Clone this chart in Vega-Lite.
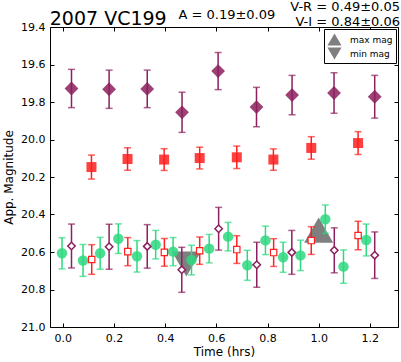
{
  "$schema": "https://vega.github.io/schema/vega-lite/v6.json",
  "width": 348,
  "height": 300,
  "autosize": {"type": "none"},
  "padding": {"left": 50, "top": 27, "right": 3, "bottom": 35},
  "background": "white",
  "config": {
    "font": "DejaVu Sans",
    "view": {"stroke": "black", "strokeWidth": 1},
    "axis": {"grid": false, "domain": false, "labelFont": "DejaVu Sans", "labelFontSize": 11, "labelColor": "black", "tickColor": "black", "tickSize": -4, "titleFont": "DejaVu Sans", "titleFontSize": 12, "titleFontWeight": "normal", "titleColor": "black"},
    "legend": {"labelFont": "DejaVu Sans"}
  },
  "datasets": {
    "pts": [
      {"t": 0.034, "mag": 19.728, "err": 0.102, "s": "V"},
      {"t": 0.181, "mag": 19.732, "err": 0.102, "s": "V"},
      {"t": 0.33, "mag": 19.73, "err": 0.1, "s": "V"},
      {"t": 0.466, "mag": 19.855, "err": 0.107, "s": "V"},
      {"t": 0.607, "mag": 19.635, "err": 0.099, "s": "V"},
      {"t": 0.757, "mag": 19.827, "err": 0.105, "s": "V"},
      {"t": 0.896, "mag": 19.763, "err": 0.105, "s": "V"},
      {"t": 1.06, "mag": 19.752, "err": 0.108, "s": "V"},
      {"t": 1.219, "mag": 19.772, "err": 0.114, "s": "V"},
      {"t": 0.112, "mag": 20.147, "err": 0.064, "s": "R"},
      {"t": 0.253, "mag": 20.104, "err": 0.06, "s": "R"},
      {"t": 0.396, "mag": 20.107, "err": 0.058, "s": "R"},
      {"t": 0.535, "mag": 20.099, "err": 0.058, "s": "R"},
      {"t": 0.68, "mag": 20.095, "err": 0.06, "s": "R"},
      {"t": 0.823, "mag": 20.107, "err": 0.057, "s": "R"},
      {"t": 0.971, "mag": 20.045, "err": 0.06, "s": "R"},
      {"t": 1.154, "mag": 20.019, "err": 0.061, "s": "R"},
      {"t": -0.003, "mag": 20.607, "err": 0.083, "s": "G"},
      {"t": 0.079, "mag": 20.645, "err": 0.085, "s": "G"},
      {"t": 0.146, "mag": 20.607, "err": 0.085, "s": "G"},
      {"t": 0.217, "mag": 20.529, "err": 0.079, "s": "G"},
      {"t": 0.29, "mag": 20.623, "err": 0.084, "s": "G"},
      {"t": 0.363, "mag": 20.561, "err": 0.076, "s": "G"},
      {"t": 0.431, "mag": 20.598, "err": 0.075, "s": "G"},
      {"t": 0.503, "mag": 20.643, "err": 0.079, "s": "G"},
      {"t": 0.572, "mag": 20.582, "err": 0.076, "s": "G"},
      {"t": 0.646, "mag": 20.518, "err": 0.076, "s": "G"},
      {"t": 0.721, "mag": 20.671, "err": 0.08, "s": "G"},
      {"t": 0.792, "mag": 20.538, "err": 0.076, "s": "G"},
      {"t": 0.861, "mag": 20.628, "err": 0.08, "s": "G"},
      {"t": 0.929, "mag": 20.618, "err": 0.081, "s": "G"},
      {"t": 1.026, "mag": 20.425, "err": 0.076, "s": "G"},
      {"t": 1.097, "mag": 20.678, "err": 0.089, "s": "G"},
      {"t": 1.186, "mag": 20.536, "err": 0.085, "s": "G"},
      {"t": 0.034, "mag": 20.568, "err": 0.117, "s": "Vo"},
      {"t": 0.181, "mag": 20.572, "err": 0.12, "s": "Vo"},
      {"t": 0.33, "mag": 20.57, "err": 0.116, "s": "Vo"},
      {"t": 0.465, "mag": 20.695, "err": 0.12, "s": "Vo"},
      {"t": 0.609, "mag": 20.476, "err": 0.114, "s": "Vo"},
      {"t": 0.758, "mag": 20.668, "err": 0.12, "s": "Vo"},
      {"t": 0.895, "mag": 20.602, "err": 0.117, "s": "Vo"},
      {"t": 1.061, "mag": 20.591, "err": 0.12, "s": "Vo"},
      {"t": 1.219, "mag": 20.617, "err": 0.124, "s": "Vo"},
      {"t": 0.113, "mag": 20.64, "err": 0.079, "s": "Ro"},
      {"t": 0.254, "mag": 20.598, "err": 0.075, "s": "Ro"},
      {"t": 0.397, "mag": 20.602, "err": 0.074, "s": "Ro"},
      {"t": 0.535, "mag": 20.593, "err": 0.073, "s": "Ro"},
      {"t": 0.68, "mag": 20.587, "err": 0.074, "s": "Ro"},
      {"t": 0.824, "mag": 20.603, "err": 0.074, "s": "Ro"},
      {"t": 0.971, "mag": 20.539, "err": 0.074, "s": "Ro"},
      {"t": 1.154, "mag": 20.512, "err": 0.076, "s": "Ro"}
    ],
    "ext": [
      {"t": 1.0, "mag": 20.483, "k": "max mag"},
      {"t": 0.483, "mag": 20.664, "k": "min mag"}
    ]
  },
  "resolve": {"axis": {"x": "independent", "y": "independent"}},
  "layer": [
    {
      "data": {"name": "ext"},
      "mark": {"type": "point", "filled": true, "color": "#7f7f7f", "opacity": 1, "size": 850, "strokeWidth": 0},
      "encoding": {
        "x": {"field": "t", "type": "quantitative", "scale": {"domain": [-0.05, 1.31], "nice": false, "zero": false}, "axis": {"orient": "top", "labels": false, "title": null, "values": [0, 0.2, 0.4, 0.6, 0.8, 1.0, 1.2]}},
        "y": {"field": "mag", "type": "quantitative", "scale": {"domain": [19.4, 21.0], "nice": false, "zero": false, "reverse": true}, "axis": {"orient": "right", "labels": false, "title": null, "values": [19.4, 19.6, 19.8, 20.0, 20.2, 20.4, 20.6, 20.8, 21.0]}},
        "shape": {"field": "k", "type": "nominal", "scale": {"domain": ["max mag", "min mag"], "range": ["triangle-up", "triangle-down"]},
          "legend": {"title": null, "orient": "top-right", "offset": 2, "strokeColor": "black", "fillColor": "white", "padding": 3, "symbolSize": 200, "symbolFillColor": "#7f7f7f", "symbolStrokeColor": "#7f7f7f", "symbolStrokeWidth": 0, "labelFontSize": 9, "labelColor": "black", "rowPadding": -2, "symbolOffset": 0, "labelOffset": 8, "cornerRadius": 0}}
      }
    },
    {
      "data": {"name": "pts"},
      "mark": {"type": "errorbar", "ticks": {"size": 7}, "thickness": 1.5},
      "encoding": {
        "x": {"field": "t", "type": "quantitative", "axis": {"orient": "bottom", "title": "Time (hrs)", "format": ".1f", "values": [0, 0.2, 0.4, 0.6, 0.8, 1.0, 1.2], "labelPadding": 9, "titlePadding": 3}},
        "y": {"field": "mag", "type": "quantitative", "axis": {"orient": "left", "title": "App. Magnitude", "format": ".1f", "values": [19.4, 19.6, 19.8, 20.0, 20.2, 20.4, 20.6, 20.8, 21.0], "labelPadding": 9, "titlePadding": 5}},
        "yError": {"field": "err"},
        "color": {"field": "s", "type": "nominal", "scale": {"domain": ["V", "R", "G", "Vo", "Ro"], "range": ["#8c1f5e", "#ff1f1f", "#2ed880", "#8c1f5e", "#ff1f1f"]}, "legend": null}
      }
    },
    {
      "data": {"name": "pts"},
      "transform": [{"filter": "datum.s == 'G'"}],
      "mark": {"type": "point", "shape": "circle", "filled": true, "color": "#2ed880", "opacity": 0.85, "size": 110},
      "encoding": {
        "x": {"field": "t", "type": "quantitative", "axis": null},
        "y": {"field": "mag", "type": "quantitative", "axis": null}
      }
    },
    {
      "data": {"name": "pts"},
      "transform": [{"filter": "datum.s == 'Vo'"}],
      "mark": {"type": "point", "shape": "diamond", "filled": false, "fill": "white", "fillOpacity": 1, "stroke": "#8c1f5e", "strokeWidth": 1.5, "size": 55},
      "encoding": {
        "x": {"field": "t", "type": "quantitative", "axis": null},
        "y": {"field": "mag", "type": "quantitative", "axis": null}
      }
    },
    {
      "data": {"name": "pts"},
      "transform": [{"filter": "datum.s == 'Ro'"}],
      "mark": {"type": "point", "shape": "square", "filled": false, "fill": "white", "fillOpacity": 1, "stroke": "#ff1f1f", "strokeWidth": 1.2, "size": 40},
      "encoding": {
        "x": {"field": "t", "type": "quantitative", "axis": null},
        "y": {"field": "mag", "type": "quantitative", "axis": null}
      }
    },
    {
      "data": {"name": "pts"},
      "transform": [{"filter": "datum.s == 'V'"}],
      "mark": {"type": "point", "shape": "diamond", "filled": true, "color": "#8c1f5e", "opacity": 0.85, "size": 190},
      "encoding": {
        "x": {"field": "t", "type": "quantitative", "axis": null},
        "y": {"field": "mag", "type": "quantitative", "axis": null}
      }
    },
    {
      "data": {"name": "pts"},
      "transform": [{"filter": "datum.s == 'R'"}],
      "mark": {"type": "point", "shape": "square", "filled": true, "color": "#ff1f1f", "opacity": 0.85, "size": 100},
      "encoding": {
        "x": {"field": "t", "type": "quantitative", "axis": null},
        "y": {"field": "mag", "type": "quantitative", "axis": null}
      }
    },
    {
      "data": {"values": [{}]},
      "mark": {"type": "text", "align": "left", "baseline": "alphabetic", "fontSize": 19, "font": "DejaVu Sans", "color": "black", "clip": false},
      "encoding": {
        "x": {"datum": -0.051, "type": "quantitative", "axis": null},
        "y": {"datum": 19.389, "type": "quantitative", "axis": null},
        "text": {"value": "2007 VC199"}
      }
    },
    {
      "data": {"values": [{}]},
      "mark": {"type": "text", "align": "left", "baseline": "alphabetic", "fontSize": 13, "font": "DejaVu Sans", "color": "black", "clip": false},
      "encoding": {
        "x": {"datum": 0.452, "type": "quantitative", "axis": null},
        "y": {"datum": 19.357, "type": "quantitative", "axis": null},
        "text": {"value": "A  = 0.19±0.09"}
      }
    },
    {
      "data": {"values": [{}]},
      "mark": {"type": "text", "align": "right", "baseline": "alphabetic", "fontSize": 13, "font": "DejaVu Sans", "color": "black", "clip": false},
      "encoding": {
        "x": {"datum": 1.318, "type": "quantitative", "axis": null},
        "y": {"datum": 19.315, "type": "quantitative", "axis": null},
        "text": {"value": "V-R = 0.49±0.05"}
      }
    },
    {
      "data": {"values": [{}]},
      "mark": {"type": "text", "align": "right", "baseline": "alphabetic", "fontSize": 13, "font": "DejaVu Sans", "color": "black", "clip": false},
      "encoding": {
        "x": {"datum": 1.318, "type": "quantitative", "axis": null},
        "y": {"datum": 19.397, "type": "quantitative", "axis": null},
        "text": {"value": "V-I  = 0.84±0.06"}
      }
    }
  ]
}
